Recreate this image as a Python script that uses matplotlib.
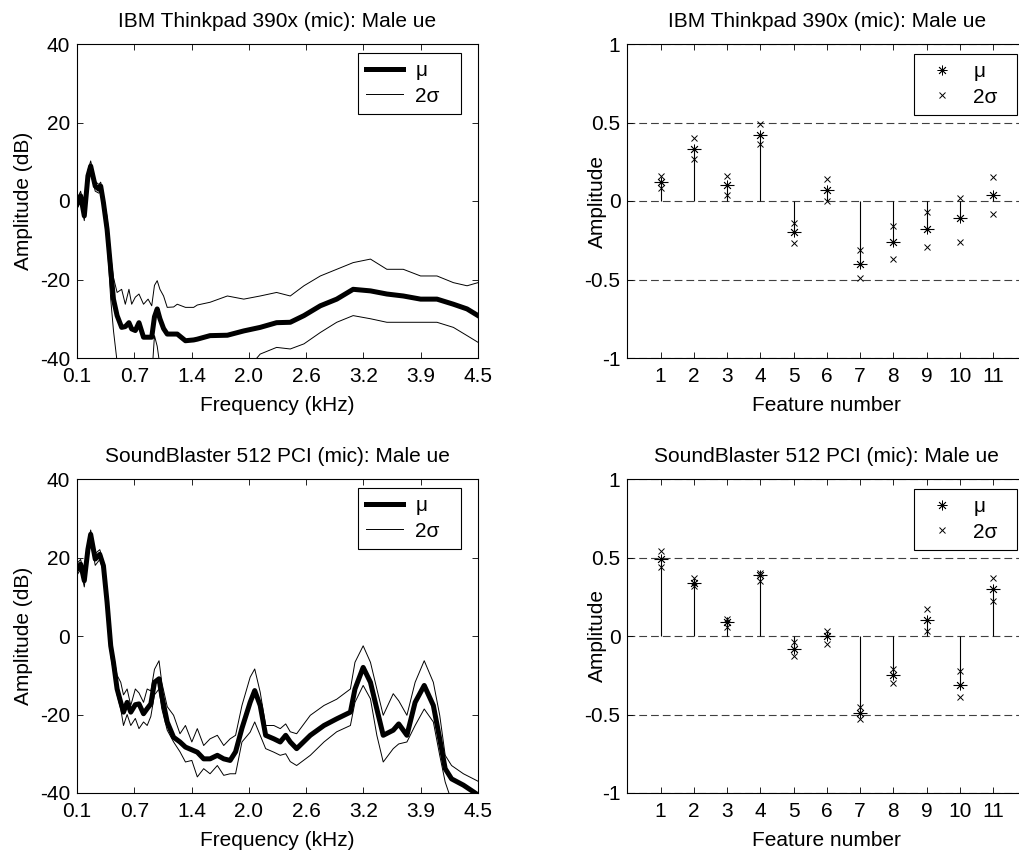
import numpy as np
import matplotlib
matplotlib.use("Agg")
import matplotlib.pyplot as plt

plt.rcParams['font.family'] = ['Liberation Sans', 'DejaVu Sans']
plt.rcParams['font.size'] = 15
plt.rcParams['axes.unicode_minus'] = False

# spectra (kHz, dB)
f_ibm = [0.10, 0.14, 0.18, 0.22, 0.25,
         0.30, 0.34, 0.36, 0.39, 0.43,
         0.47, 0.50, 0.54, 0.59, 0.63,
         0.67, 0.70, 0.74, 0.78, 0.83,
         0.88, 0.92, 0.95, 0.98, 1.01,
         1.05, 1.09, 1.16, 1.20, 1.29,
         1.38, 1.42, 1.56, 1.75, 1.93,
         2.11, 2.29, 2.44, 2.59, 2.77,
         2.95, 3.13, 3.32, 3.50, 3.68,
         3.87, 4.05, 4.23, 4.38, 4.50]
mu_ibm = [-0.8, 1.3, -3.8, 6.4, 8.9,
          3.8, 3.0, 3.8, -0.4, -7.2,
          -17.4, -25.0, -29.2, -32.2, -32.0,
          -31.0, -32.6, -33.0, -31.0, -34.7,
          -34.7, -34.7, -29.5, -27.5, -30.0,
          -32.5, -33.9, -33.9, -33.9, -35.6,
          -35.4, -35.2, -34.3, -34.2, -33.1,
          -32.2, -31.0, -30.9, -29.2, -26.7,
          -25.0, -22.5, -22.9, -23.7, -24.2,
          -25.0, -25.0, -26.3, -27.5, -29.2]
up_ibm = [0.5, 2.5, -2.5, 7.8, 10.2,
          5.0, 4.2, 4.8, 1.0, -4.0,
          -14.0, -19.5, -23.3, -22.5, -26.3,
          -22.5, -26.3, -24.5, -23.7, -26.3,
          -25.0, -26.7, -21.5, -20.3, -22.5,
          -24.2, -27.1, -27.0, -26.3, -27.1,
          -27.1, -26.5, -25.8, -24.2, -25.0,
          -24.2, -23.3, -24.2, -21.6, -19.1,
          -17.4, -15.7, -14.8, -17.4, -17.4,
          -19.1, -19.1, -20.8, -21.6, -20.8]
lo_ibm = [-2.0, 0.0, -5.0, 5.0, 7.5,
          2.5, 2.0, 2.5, -2.0, -10.0,
          -25.0, -33.0, -41.0, -50.0, -50.0,
          -50.0, -50.0, -50.0, -50.0, -50.0,
          -50.0, -45.0, -34.3, -37.0, -42.0,
          -50.0, -50.0, -50.0, -50.0, -50.0,
          -50.0, -50.0, -50.0, -50.0, -44.0,
          -39.0, -37.3, -37.7, -36.4, -33.5,
          -30.9, -29.2, -30.0, -30.9, -30.9,
          -30.9, -30.9, -32.2, -34.3, -36.0]

f_sb = [0.10, 0.14, 0.18, 0.22, 0.25,
        0.30, 0.35, 0.39, 0.43, 0.47,
        0.50, 0.54, 0.58, 0.61, 0.65,
        0.69, 0.74, 0.78, 0.83, 0.87,
        0.91, 0.95, 1.00, 1.03, 1.09,
        1.16, 1.23, 1.29, 1.36, 1.42,
        1.49, 1.56, 1.64, 1.71, 1.78,
        1.84, 1.91, 2.00, 2.05, 2.11,
        2.17, 2.26, 2.33, 2.39, 2.44,
        2.51, 2.66, 2.81, 2.95, 3.10,
        3.15, 3.24, 3.32, 3.39, 3.46,
        3.57, 3.63, 3.72, 3.81, 3.91,
        4.01, 4.08, 4.14, 4.21, 4.34,
        4.45, 4.50]
mu_sb = [17.0, 18.3, 14.1, 22.1, 25.9,
         19.6, 20.8, 17.9, 8.6, -2.5,
         -6.7, -13.5, -16.9, -19.4, -16.9,
         -19.4, -17.5, -17.3, -19.8, -18.5,
         -17.3, -11.8, -10.9, -15.2, -21.9,
         -25.8, -27.0, -28.3, -29.0, -29.6,
         -31.3, -31.3, -30.4, -31.3, -31.7,
         -29.5, -23.5, -16.9, -13.9, -17.7,
         -25.3, -26.2, -27.0, -25.3, -27.0,
         -28.7, -25.3, -22.8, -21.1, -19.4,
         -13.5, -8.0, -11.8, -18.6, -25.3,
         -24.0, -22.4, -25.3, -16.9, -12.6,
         -17.7, -26.2, -33.8, -36.4, -38.0,
         -39.7, -40.5]
up_sb = [18.5, 19.5, 15.5, 23.5, 27.0,
         21.0, 22.0, 19.0, 9.4, -1.0,
         -5.0, -10.0, -11.8, -15.0, -13.5,
         -17.7, -13.5, -14.5, -16.9, -13.5,
         -14.0, -8.5, -6.3, -11.8, -18.0,
         -20.2, -24.9, -22.8, -27.0, -23.6,
         -27.9, -26.2, -25.3, -27.9, -26.2,
         -25.3, -17.7, -10.5, -8.4, -14.3,
         -22.8, -22.8, -23.6, -22.4, -24.4,
         -24.9, -20.2, -17.7, -16.1, -13.5,
         -6.7, -2.5, -6.7, -13.5, -20.2,
         -14.7, -16.5, -20.2, -11.8, -6.3,
         -11.8, -20.2, -30.4, -33.0, -35.1,
         -36.4, -37.0]
lo_sb = [15.5, 17.0, 12.5, 20.5, 24.5,
         18.0, 19.5, 16.5, 7.7, -5.0,
         -9.0, -15.0, -18.6, -22.8, -20.0,
         -22.8, -21.0, -23.6, -21.9, -22.8,
         -20.5, -15.0, -13.5, -18.5, -24.0,
         -27.0, -29.5, -32.1, -31.7, -35.9,
         -33.8, -35.1, -33.0, -35.5, -35.1,
         -35.1, -27.0, -24.5, -21.9, -25.3,
         -28.7, -29.6, -30.4, -30.0, -32.0,
         -33.0, -30.4, -27.0, -24.4, -22.8,
         -16.9, -12.6, -16.0, -25.3, -32.1,
         -28.7, -27.5, -27.0, -22.8, -18.6,
         -21.9, -30.4, -37.2, -42.0, -46.0,
         -48.0, -48.0]

# feature statistics
feat = np.arange(1, 12)
mu_ibm_f = [0.12, 0.33, 0.10, 0.42, -0.20, 0.07, -0.40, -0.26, -0.18, -0.11, 0.04]
hi_ibm_f = [0.16, 0.40, 0.16, 0.49, -0.14, 0.14, -0.31, -0.16, -0.07, 0.02, 0.15]
lo_ibm_f = [0.08, 0.27, 0.04, 0.36, -0.27, 0.00, -0.49, -0.37, -0.29, -0.26, -0.08]
mu_sb_f = [0.49, 0.34, 0.09, 0.39, -0.08, 0.00, -0.49, -0.25, 0.10, -0.31, 0.30]
hi_sb_f = [0.54, 0.37, 0.11, 0.40, -0.04, 0.03, -0.45, -0.21, 0.17, -0.22, 0.37]
lo_sb_f = [0.44, 0.32, 0.055, 0.35, -0.125, -0.05, -0.53, -0.30, 0.03, -0.39, 0.22]

titles = ['IBM Thinkpad 390x (mic): Male ue', 'SoundBlaster 512 PCI (mic): Male ue']
freq_ticks = np.linspace(0.1, 4.5, 8)
freq_labels = ['0.1', '0.7', '1.4', '2.0', '2.6', '3.2', '3.9', '4.5']

W, H = 1020, 852
fig = plt.figure(figsize=(W / 100, H / 100), dpi=100)


def frame(ax):
    ax.tick_params(direction='in', top=True, right=True, length=4, width=0.6, pad=5)
    ax.tick_params(axis='x', pad=6.5)
    for s in ax.spines.values():
        s.set_linewidth(0.8)


def legend_box(ax, x0, y0, x1, y1, hl, tp):
    leg = ax.legend(loc='upper left',
                    bbox_to_anchor=(x0 / W, 1 - y1 / H, (x1 - x0) / W, (y1 - y0) / H),
                    bbox_transform=fig.transFigure, mode='expand', borderaxespad=0,
                    fancybox=False, framealpha=1, edgecolor='black', handlelength=hl,
                    handletextpad=tp, borderpad=0.4, labelspacing=0.3, fontsize=15)
    leg.get_frame().set_linewidth(0.8)


def spectrum(top, f, mu, up, lo, title):
    ax = fig.add_axes([77 / W, 1 - (top + 314) / H, 401 / W, 314 / H])
    ax.plot(f, mu, color='black', lw=3.6, label='\u03bc', solid_joinstyle='round')
    ax.plot(f, up, color='black', lw=0.7, label='2\u03c3')
    ax.plot(f, lo, color='black', lw=0.7)
    ax.set_xlim(0.1, 4.5)
    ax.set_ylim(-40, 40)
    ax.set_xticks(freq_ticks)
    ax.set_xticklabels(freq_labels)
    ax.set_yticks([-40, -20, 0, 20, 40])
    ax.set_title(title, fontsize=15, pad=12)
    ax.set_xlabel('Frequency (kHz)', labelpad=7)
    ax.set_ylabel('Amplitude (dB)')
    ax.yaxis.set_label_coords(-0.11, 0.5)
    frame(ax)
    legend_box(ax, 358, top + 9, 461, top + 68, 1.75, 0.6)
    return ax


def features(top, mu, hi, lo, title):
    ax = fig.add_axes([627.4 / W, 1 - (top + 314) / H, 399 / W, 314 / H])
    ax.yaxis.grid(True, linestyle=(0, (7, 3.6)), color='0.25', lw=0.8)
    ax.set_axisbelow(True)
    ax.vlines(feat, 0, mu, color='black', lw=0.8)
    ax.plot(feat, mu, ls='none', marker='_', ms=10, mew=0.8, color='black')
    ax.plot(feat, mu, ls='none', marker=(8, 2, 0), ms=7, mew=0.6, color='black', label='\u03bc')
    ax.plot(feat, hi, ls='none', marker='x', ms=4.5, mew=0.7, color='black', label='2\u03c3')
    ax.plot(feat, lo, ls='none', marker='x', ms=4.5, mew=0.7, color='black')
    ax.set_xlim(0, 12)
    ax.set_ylim(-1, 1)
    ax.set_xticks(feat)
    ax.set_yticks([-1, -0.5, 0, 0.5, 1])
    ax.set_yticklabels(['-1', '-0.5', '0', '0.5', '1'])
    ax.set_title(title, fontsize=15, pad=12)
    ax.set_xlabel('Feature number', labelpad=7)
    ax.set_ylabel('Amplitude')
    ax.yaxis.set_label_coords(-0.051, 0.5)
    frame(ax)
    legend_box(ax, 914, top + 10, 1017, top + 72, 1.9, 0.55)
    return ax


spectrum(44, f_ibm, mu_ibm, up_ibm, lo_ibm, titles[0])
spectrum(479, f_sb, mu_sb, up_sb, lo_sb, titles[1])
features(44, mu_ibm_f, hi_ibm_f, lo_ibm_f, titles[0])
features(479, mu_sb_f, hi_sb_f, lo_sb_f, titles[1])

fig.savefig('out.png', dpi=100)
